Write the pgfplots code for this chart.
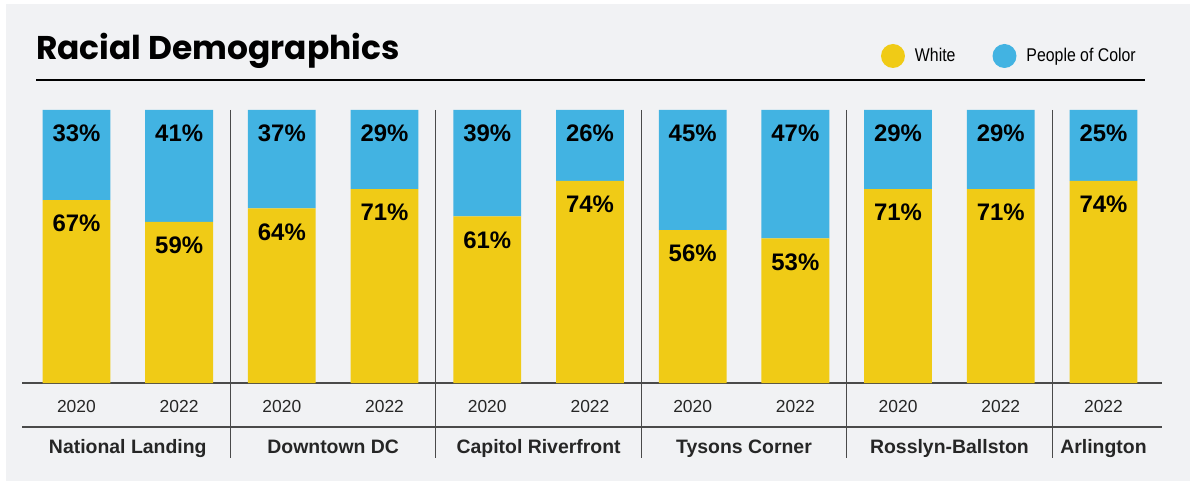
\documentclass[border=0pt]{standalone}
\usepackage{pgfplots}
\pgfplotsset{compat=1.18}
\usepackage{fontspec}
\setmainfont{Liberation Sans}
\newfontfamily\titlefont{Poppins}
\definecolor{bgc}{HTML}{F1F2F4}
\definecolor{yellowc}{HTML}{F0CB16}
\definecolor{bluec}{HTML}{42B3E2}
\definecolor{linec}{HTML}{4A4A4A}
\begin{document}
\begin{tikzpicture}[
  sep/.style={linec, line width=1.1bp},
  grp/.style={anchor=base, inner sep=0pt, text=black!85, font=\bfseries\fontsize{19.5}{22}\selectfont}]
% page and panel
\fill[white] (0bp,0bp) rectangle (1196bp,481bp);
\fill[bgc] (6bp,0bp) rectangle (1190bp,477bp);
% title and rule
\node[anchor=base west,inner sep=0pt] at (36bp,421bp)
  {\titlefont\bfseries\fontsize{33}{38}\selectfont Racial Demographics};
\draw[black,line width=1.3bp] (36bp,401bp) -- (1145bp,401bp);

\begin{axis}[
  at={(22bp,98bp)}, anchor=south west,
  scale only axis, width=1140bp, height=273bp,
  xmin=-0.53, xmax=10.57, ymin=0, ymax=100,
  ybar stacked, bar width=0.66,
  axis x line=bottom, axis y line=none,
  axis line style={-, linec, line width=1.1bp},
  xtick={0,...,10}, major tick length=0pt,
  xticklabels={2020,2022,2020,2022,2020,2022,2020,2022,2020,2022,2022},
  xticklabel style={anchor=center, yshift=-23.5bp, font=\fontsize{17.5}{20}\selectfont, text=black!85},
  clip=false,
  point meta=explicit symbolic,
  visualization depends on={rawy \as \ry},
  nodes near coords,
  % stacked labels sit at the middle of their segment: move them to 23bp below its top
  nodes near coords style={anchor=center, yshift={\ry*1.365bp-23.5bp},
    font=\bfseries\fontsize{24}{28}\selectfont, text=black},
  every axis plot post/.append style={
    legend image code/.code={\fill[##1,draw=none] (12bp,0bp) circle (12bp);}},
  legend style={draw=none, fill=none, inner sep=0pt, outer sep=0pt,
    at={(0.7535,1.1978)}, anchor=west, legend columns=-1,
    font=\fontsize{18.5}{21}\selectfont,
    /tikz/every odd column/.append style={column sep=8bp},
    /tikz/every even column/.append style={column sep=35bp}},
]
\addplot[fill=yellowc, draw=none] coordinates {
  (0,67) [67\%]
  (1,59) [59\%]
  (2,64) [64\%]
  (3,71) [71\%]
  (4,61) [61\%]
  (5,74) [74\%]
  (6,56) [56\%]
  (7,53) [53\%]
  (8,71) [71\%]
  (9,71) [71\%]
  (10,74) [74\%]
};
\addlegendentry{\scalebox{0.86}[1]{White}}
% blue segment fills the bar to 100; labels keep the published shares
\addplot[fill=bluec, draw=none] coordinates {
  (0,33) [33\%]
  (1,41) [41\%]
  (2,36) [37\%]
  (3,29) [29\%]
  (4,39) [39\%]
  (5,26) [26\%]
  (6,44) [45\%]
  (7,47) [47\%]
  (8,29) [29\%]
  (9,29) [29\%]
  (10,26) [25\%]
};
\addlegendentry{\scalebox{0.86}[1]{People of Color}}

% lower rule under the year labels
\draw[sep] ([yshift=-44bp]axis cs:-0.53,0) -- ([yshift=-44bp]axis cs:10.57,0);
% group separators
\draw[sep] (axis cs:1.5,100) -- ([yshift=-75bp]axis cs:1.5,0);
\draw[sep] (axis cs:3.5,100) -- ([yshift=-75bp]axis cs:3.5,0);
\draw[sep] (axis cs:5.5,100) -- ([yshift=-75bp]axis cs:5.5,0);
\draw[sep] (axis cs:7.5,100) -- ([yshift=-75bp]axis cs:7.5,0);
\draw[sep] (axis cs:9.5,100) -- ([yshift=-75bp]axis cs:9.5,0);
% group names
\node[grp] at ([yshift=-70bp]axis cs:0.5,0) {National Landing};
\node[grp] at ([yshift=-70bp]axis cs:2.5,0) {Downtown DC};
\node[grp] at ([yshift=-70bp]axis cs:4.5,0) {Capitol Riverfront};
\node[grp] at ([yshift=-70bp]axis cs:6.5,0) {Tysons Corner};
\node[grp] at ([yshift=-70bp]axis cs:8.5,0) {Rosslyn-Ballston};
\node[grp] at ([yshift=-70bp]axis cs:10,0) {Arlington};
\end{axis}
\end{tikzpicture}
\end{document}
